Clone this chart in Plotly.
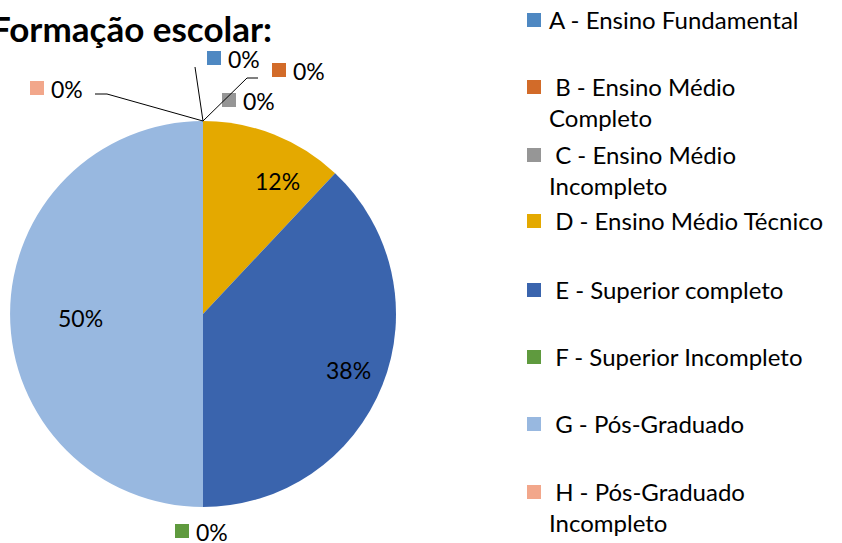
import plotly.graph_objects as go

W, H = 842, 543

labels = ['A - Ensino Fundamental', 'B - Ensino Médio Completo', 'C - Ensino Médio Incompleto',
          'D - Ensino Médio Técnico', 'E - Superior completo', 'F - Superior Incompleto',
          'G - Pós-Graduado', 'H - Pós-Graduado Incompleto']
legend_text = ['A - Ensino Fundamental', ' B - Ensino Médio<br>Completo', ' C - Ensino Médio<br>Incompleto',
               ' D - Ensino Médio Técnico', ' E - Superior completo', ' F - Superior Incompleto',
               ' G - Pós-Graduado', ' H - Pós-Graduado<br>Incompleto']
values = [0, 0, 0, 12, 38, 0, 50, 0]
colors = ['#4E88C2', '#D26B29', '#969696', '#E4A900', '#3A64AD', '#5F9A3E', '#98B8E0', '#F2A78B']

FONT = 'Lato'


def px(x, y):
    return x / W, 1 - y / H


cx, cy, r = 203, 314, 193

fig = go.Figure()
fig.add_trace(go.Pie(
    labels=labels, values=values, sort=False, direction='clockwise', rotation=0,
    marker=dict(colors=colors, line=dict(width=0)),
    textinfo='none',
    domain=dict(x=[(cx - r) / W, (cx + r) / W], y=[1 - (cy + r) / H, 1 - (cy - r) / H]),
    showlegend=False, hoverinfo='label+percent',
))

shapes = []
annotations = []
total = sum(values)

# data label positions (pixel coords of the label centre, as in the reference layout)
label_pos = {0: (214, 58), 1: (279, 70), 2: (229, 100), 3: (277, 181), 4: (348, 370),
             5: (182, 531), 6: (80, 318), 7: (37, 88)}
for i, (mx, my) in label_pos.items():
    pct = f'{values[i] / total:.0%}'
    if values[i] == 0:
        # zero slices get a colour key square beside their label
        x0, y0 = px(mx - 7, my - 7)
        x1, y1 = px(mx + 7, my + 7)
        shapes.append(dict(type='rect', xref='paper', yref='paper', x0=x0, y0=y1, x1=x1, y1=y0,
                           fillcolor=colors[i], line=dict(width=0)))
        tx, ty = px(mx + 12, my + 1)
        annotations.append(dict(x=tx, y=ty, xref='paper', yref='paper', xanchor='left', yanchor='middle',
                                text=pct, showarrow=False,
                                font=dict(family=FONT, size=23, color='#000000')))
    else:
        tx, ty = px(mx, my)
        annotations.append(dict(x=tx, y=ty, xref='paper', yref='paper', xanchor='center', yanchor='middle',
                                text=pct, showarrow=False,
                                font=dict(family=FONT, size=23, color='#000000')))

# leader lines
leaders = [[(203, 121), (195, 67)],
           [(203, 121), (247, 78), (258, 78)],
           [(203, 121), (107, 94), (95, 94)]]
for pts in leaders:
    for (xa, ya), (xb, yb) in zip(pts[:-1], pts[1:]):
        ax, ay = px(xa, ya)
        bx, by = px(xb, yb)
        shapes.append(dict(type='line', xref='paper', yref='paper', x0=ax, y0=ay, x1=bx, y1=by,
                           line=dict(color='#000000', width=1)))

# legend drawn manually
legend_y = [20, 87, 155, 221, 290, 357, 424, 492]
for i, ly in enumerate(legend_y):
    x0, y0 = px(527, ly - 7)
    x1, y1 = px(541, ly + 7)
    shapes.append(dict(type='rect', xref='paper', yref='paper', x0=x0, y0=y1, x1=x1, y1=y0,
                       fillcolor=colors[i], line=dict(width=0)))
    tx, ty = px(547, ly - 17)
    annotations.append(dict(x=tx, y=ty, xref='paper', yref='paper', xanchor='left', yanchor='top',
                            align='left', text=legend_text[i], showarrow=False,
                            font=dict(family=FONT, size=24, color='#000000')))

tx, ty = px(-11, 28)
annotations.append(dict(x=tx, y=ty, xref='paper', yref='paper', xanchor='left', yanchor='middle',
                        text='<b>Formação escolar:</b>', showarrow=False,
                        font=dict(family=FONT, size=35, color='#000000')))

fig.update_layout(
    width=W, height=H, margin=dict(l=0, r=0, t=0, b=0),
    paper_bgcolor='#FFFFFF', plot_bgcolor='#FFFFFF',
    shapes=shapes, annotations=annotations,
)

fig.write_html('out.html', config={'displayModeBar': False},
               post_script="document.body.style.margin='0';")
